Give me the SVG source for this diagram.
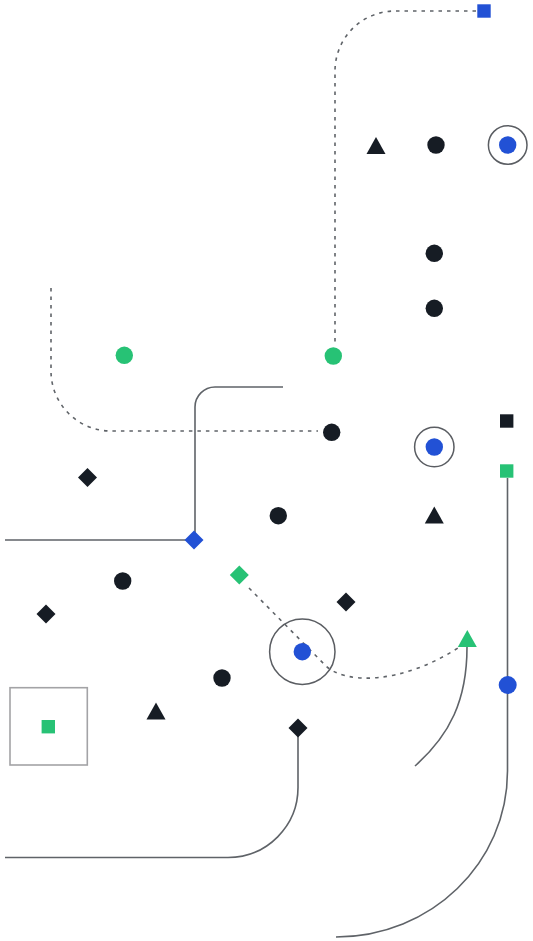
<svg xmlns="http://www.w3.org/2000/svg" width="533" height="941" viewBox="0 0 533 941">
<defs>
<style>
.k{fill:#161c24}
.b{fill:#2251d5}
.g{fill:#27c275}
.ring{fill:none;stroke:#5a5d62;stroke-width:1.5}
.solid{fill:none;stroke:#5f6368;stroke-width:1.6}
.dash{fill:none;stroke:#5f6368;stroke-width:1.6;stroke-dasharray:3.5 5}
.box{fill:none;stroke:#a3a3a6;stroke-width:1.6}
</style>
<path id="tri" d="M0,-8.5 L9.5,8.5 L-9.5,8.5 Z"/>
<path id="dia" d="M0,-9.5 L9.5,0 L0,9.5 L-9.5,0 Z"/>
<rect id="sq" x="-6.7" y="-6.7" width="13.4" height="13.4"/>
</defs>
<rect width="533" height="941" fill="#ffffff"/>
<g id="connectors">
<path class="dash" d="M476,11 H395 A60,60 0 0 0 335,71 V346"/>
<path class="dash" d="M51,288 V371 A60,60 0 0 0 111,431 H318"/>
<path class="solid" d="M283,387 H215 A20,20 0 0 0 195,407 V540 H5"/>
<path class="dash" d="M249,588 L326,666 C345,684 400,685 458,648"/>
<path class="solid" d="M467,647 C467,700 450,735 415,766"/>
<path class="solid" d="M507.5,478 V771 C507.5,863 431,937 336,937"/>
<path class="solid" d="M298,735 V787 A70,70 0 0 1 228,857.5 H5"/>
</g>
<g id="n-blue-square-top"><use href="#sq" class="b" x="484" y="11"/></g>
<g id="n-tri-1"><use href="#tri" class="k" x="376" y="145.5"/></g>
<g id="n-circle-1"><circle class="k" cx="436" cy="145" r="8.7"/></g>
<g id="n-ring-1"><circle class="ring" cx="507.7" cy="145" r="19.3"/><circle class="b" cx="507.7" cy="145" r="8.7"/></g>
<g id="n-circle-2"><circle class="k" cx="434.3" cy="253.3" r="8.7"/></g>
<g id="n-circle-3"><circle class="k" cx="434.3" cy="308.3" r="8.7"/></g>
<g id="n-green-circle-1"><circle class="g" cx="124.3" cy="355.3" r="8.7"/></g>
<g id="n-green-circle-2"><circle class="g" cx="333.3" cy="356" r="8.7"/></g>
<g id="n-circle-4"><circle class="k" cx="331.7" cy="432.3" r="8.7"/></g>
<g id="n-black-square"><use href="#sq" class="k" x="506.7" y="421"/></g>
<g id="n-ring-2"><circle class="ring" cx="434.3" cy="447" r="19.7"/><circle class="b" cx="434.3" cy="447" r="8.7"/></g>
<g id="n-green-square-1"><use href="#sq" class="g" x="506.7" y="471"/></g>
<g id="n-diamond-1"><use href="#dia" class="k" x="87.5" y="477.5"/></g>
<g id="n-circle-5"><circle class="k" cx="278.3" cy="515.7" r="8.7"/></g>
<g id="n-tri-2"><use href="#tri" class="k" x="434.3" y="515"/></g>
<g id="n-blue-diamond"><use href="#dia" class="b" x="194" y="540"/></g>
<g id="n-circle-6"><circle class="k" cx="122.7" cy="581" r="8.7"/></g>
<g id="n-green-diamond"><use href="#dia" class="g" x="239.3" y="575"/></g>
<g id="n-diamond-2"><use href="#dia" class="k" x="46" y="614"/></g>
<g id="n-diamond-3"><use href="#dia" class="k" x="346" y="602"/></g>
<g id="n-ring-3"><circle class="ring" cx="302.3" cy="651.7" r="32.7"/><circle class="b" cx="302.3" cy="651.7" r="8.7"/></g>
<g id="n-green-tri"><use href="#tri" class="g" x="467.3" y="638.5"/></g>
<g id="n-circle-7"><circle class="k" cx="222" cy="678" r="8.7"/></g>
<g id="n-blue-circle"><circle class="b" cx="507.7" cy="685" r="9"/></g>
<g id="n-tri-3"><use href="#tri" class="k" x="156" y="711"/></g>
<g id="n-box"><rect class="box" x="10" y="687.7" width="77.3" height="77.3"/><use href="#sq" class="g" x="48.3" y="726.7"/></g>
<g id="n-diamond-4"><use href="#dia" class="k" x="298" y="728"/></g>
</svg>
